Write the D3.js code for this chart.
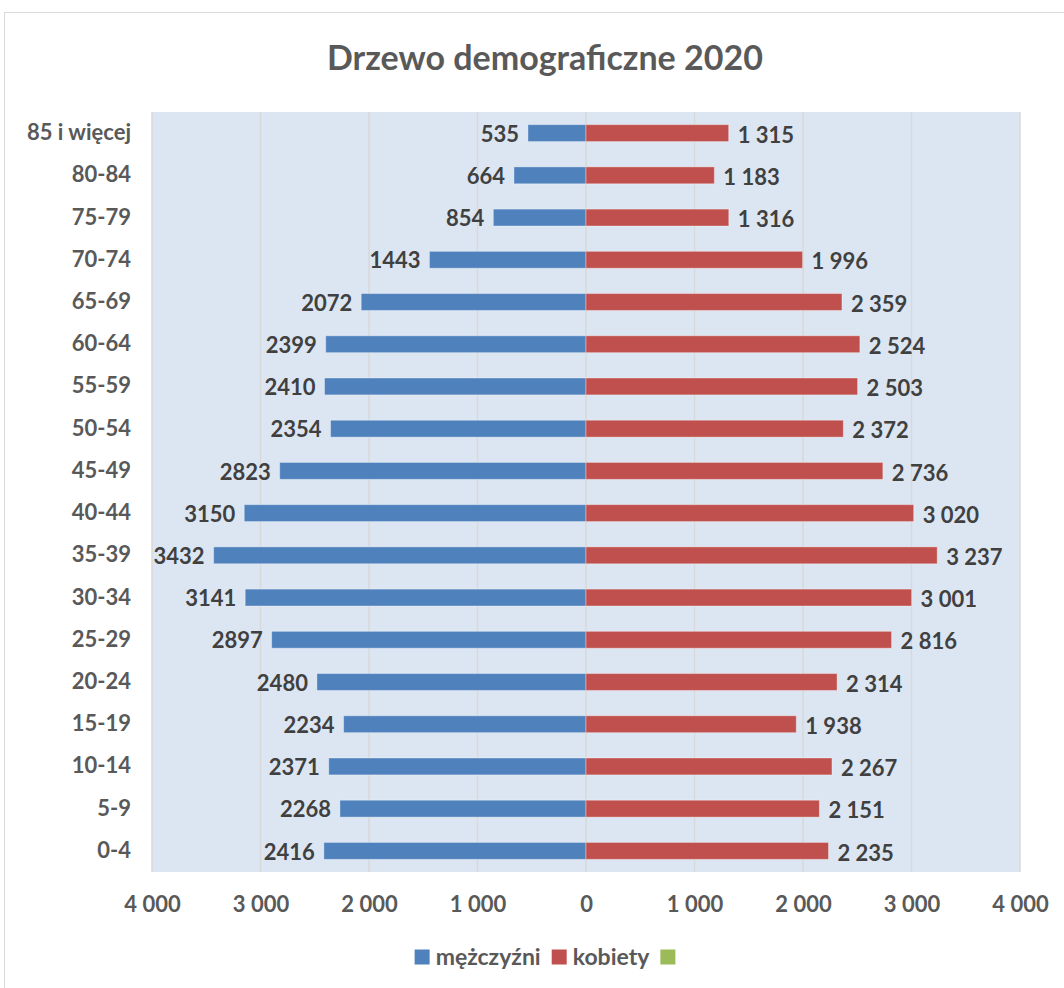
<!DOCTYPE html>
<html>
<head>
<meta charset="utf-8">
<script src="https://cdn.jsdelivr.net/npm/d3@7"></script>
<style>
  body { margin: 0; background: #fff; }
  text { font-family: Lato, "Open Sans", sans-serif; font-weight: bold; }
</style>
</head>
<body>
<div id="chart"></div>
<script>
// age groups, top to bottom
const groups = ["85 i więcej", "80-84", "75-79", "70-74", "65-69", "60-64", "55-59", "50-54",
  "45-49", "40-44", "35-39", "30-34", "25-29", "20-24", "15-19", "10-14", "5-9", "0-4"];
const men = [535, 664, 854, 1443, 2072, 2399, 2410, 2354, 2823, 3150, 3432, 3141, 2897, 2480, 2234, 2371, 2268, 2416];
const women = [1315, 1183, 1316, 1996, 2359, 2524, 2503, 2372, 2736, 3020, 3237, 3001, 2816, 2314, 1938, 2267, 2151, 2235];
const ticks = [-4000, -3000, -2000, -1000, 0, 1000, 2000, 3000, 4000];
const legendItems = [
  { name: "mężczyźni", color: "#4f81bd" },
  { name: "kobiety", color: "#c0504d" },
  { name: "", color: "#9bbb59" }
];

const W = 1064, H = 988;
const plot = { left: 152, right: 1020, top: 112, bottom: 872 };

const svg = d3.select("#chart").append("svg")
  .attr("width", W).attr("height", H);

// chart frame
svg.append("rect")
  .attr("x", 4.5).attr("y", 12.5)
  .attr("width", 1100).attr("height", 1000)
  .attr("fill", "#fff").attr("stroke", "#d9d9d9");

const x = d3.scaleLinear().domain([-4000, 4000]).range([plot.left, plot.right]);
const y = d3.scaleBand().domain(groups).range([plot.top, plot.bottom]).paddingInner(0.6).paddingOuter(0.3);
const band = d3.scaleBand().domain(groups).range([plot.top, plot.bottom]);

svg.append("text")
  .attr("x", 545).attr("y", 70)
  .attr("text-anchor", "middle")
  .attr("font-size", 34)
  .attr("fill", "#595959")
  .text("Drzewo demograficzne 2020");

svg.append("rect")
  .attr("x", plot.left).attr("y", plot.top)
  .attr("width", plot.right - plot.left).attr("height", plot.bottom - plot.top)
  .attr("fill", "#dce6f2");

svg.append("g").selectAll("line").data(ticks).join("line")
  .attr("x1", d => x(d)).attr("x2", d => x(d))
  .attr("y1", plot.top).attr("y2", plot.bottom)
  .attr("stroke", "#d9d9d9").attr("stroke-width", 1.5);

const fmtSpace = v => d3.format(",")(Math.abs(v)).replace(/,/g, " ");

// tick labels
const xAxis = d3.axisBottom(x).tickValues(ticks).tickSize(0).tickFormat(fmtSpace);
const ax = svg.append("g").attr("transform", `translate(0,${plot.bottom})`).call(xAxis);
ax.select(".domain").remove();
ax.selectAll("text")
  .attr("y", 40).attr("dy", 0)
  .attr("font-size", 22).attr("font-family", null)
  .attr("fill", "#595959");

// category labels
const yAxis = d3.axisLeft(band).tickSize(0).tickPadding(0);
const ay = svg.append("g").attr("transform", "translate(131,0)").call(yAxis);
ay.select(".domain").remove();
ay.selectAll("text")
  .attr("font-size", 22).attr("font-family", null)
  .attr("fill", "#595959");

// bars
svg.append("g").selectAll("rect").data(men).join("rect")
  .attr("x", d => x(-d)).attr("width", d => x(0) - x(-d))
  .attr("y", (d, i) => y(groups[i])).attr("height", y.bandwidth())
  .attr("fill", "#4f81bd").attr("stroke", "rgba(255,255,255,0.35)").attr("stroke-width", 1);

svg.append("g").selectAll("rect").data(women).join("rect")
  .attr("x", x(0)).attr("width", d => x(d) - x(0))
  .attr("y", (d, i) => y(groups[i])).attr("height", y.bandwidth())
  .attr("fill", "#c0504d").attr("stroke", "rgba(255,255,255,0.35)").attr("stroke-width", 1);

// data labels
svg.append("g").selectAll("text").data(men).join("text")
  .attr("x", d => x(-d) - 9)
  .attr("y", (d, i) => band(groups[i]) + band.bandwidth() / 2 + 1)
  .attr("dy", "0.35em").attr("text-anchor", "end")
  .attr("font-size", 22).attr("fill", "#404040")
  .text(d => d);

svg.append("g").selectAll("text").data(women).join("text")
  .attr("x", d => x(d) + 9)
  .attr("y", (d, i) => band(groups[i]) + band.bandwidth() / 2 + 2)
  .attr("dy", "0.35em").attr("text-anchor", "start")
  .attr("font-size", 22).attr("fill", "#404040")
  .text(d => fmtSpace(d));

// legend
const lg = svg.append("g");
let lx = 0;
legendItems.forEach(it => {
  const g = lg.append("g").attr("transform", `translate(${lx},0)`);
  g.append("rect").attr("x", 0).attr("y", -7.5).attr("width", 15).attr("height", 15).attr("fill", it.color);
  const t = g.append("text").attr("x", 21).attr("dy", "0.35em")
    .attr("font-size", 23).attr("fill", "#595959").text(it.name);
  const tw = it.name ? t.node().getComputedTextLength() : 0;
  lx += 21 + tw + 11;
});
const lw = lx - 11 - 6;
lg.attr("transform", `translate(${545 - lw / 2},957)`);
</script>
</body>
</html>
